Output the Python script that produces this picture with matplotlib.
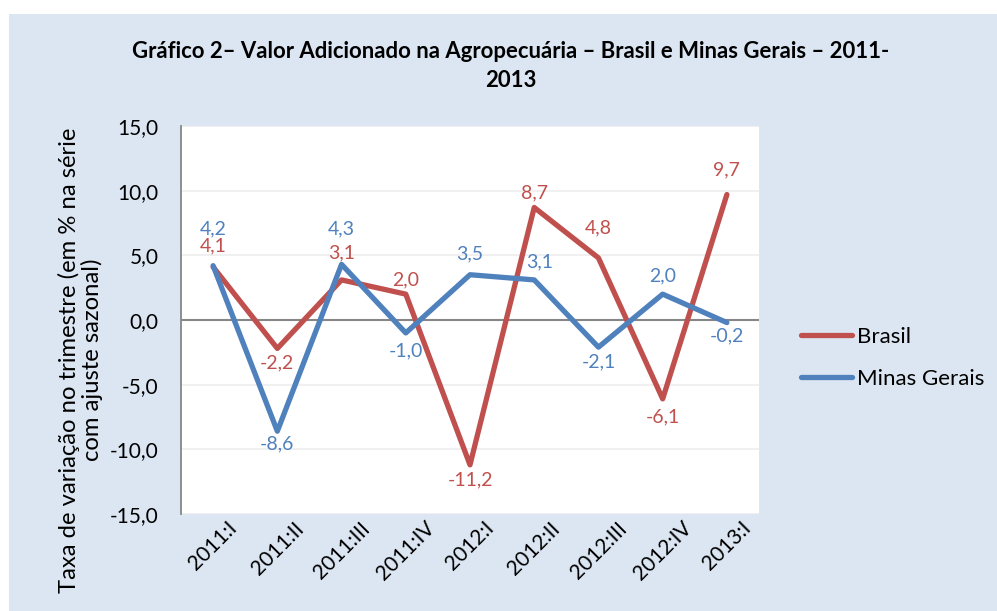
import matplotlib
matplotlib.use('Agg')
import matplotlib.pyplot as plt
from matplotlib.ticker import FuncFormatter, MultipleLocator
from matplotlib.patches import Rectangle

categories = ['2011:I', '2011:II', '2011:III', '2011:IV', '2012:I',
              '2012:II', '2012:III', '2012:IV', '2013:I']
brasil = [4.1, -2.2, 3.1, 2.0, -11.2, 8.7, 4.8, -6.1, 9.7]
minas = [4.2, -8.6, 4.3, -1.0, 3.5, 3.1, -2.1, 2.0, -0.2]

# data-label offsets in pixels (styling only)
brasil_dy = [-21, 14, -27, -14, 15, -15, -30, 18, -25]
minas_dy = [-37, 13, -36, 18, -21, -18, 15, -18, 13]
minas_dx = [0, 0, 0, 0, 0, 5, 0, 0, 0]

RED = '#C0504D'
BLUE = '#4F81BD'
BG = '#DCE6F2'

plt.rcParams['font.family'] = ['Lato', 'DejaVu Sans']

W, H = 997, 611
fig = plt.figure(figsize=(W / 100, H / 100), dpi=100)
fig.patch.set_facecolor('white')
fig.patches.append(Rectangle((9 / W, 0), 1 - 9 / W, (H - 14) / H,
                             transform=fig.transFigure, facecolor=BG,
                             edgecolor='none', zorder=-10))

ax = fig.add_axes([181 / W, (H - 514) / H, 578 / W, 388 / H])
ax.set_facecolor('white')

def fmt(v):
    return f'{v:.1f}'.replace('.', ',')

x = list(range(len(categories)))
ax.plot(x, brasil, color=RED, lw=3.8, solid_capstyle='round',
        solid_joinstyle='round', label='Brasil', zorder=3)
ax.plot(x, minas, color=BLUE, lw=3.8, solid_capstyle='round',
        solid_joinstyle='round', label='Minas Gerais', zorder=4)

for i, v in enumerate(brasil):
    ax.annotate(fmt(v), (i, v), xytext=(0, -brasil_dy[i] * 0.72),
                textcoords='offset points', ha='center', va='center',
                color=RED, fontsize=14, zorder=5)
for i, v in enumerate(minas):
    ax.annotate(fmt(v), (i, v), xytext=(minas_dx[i] * 0.72, -minas_dy[i] * 0.72),
                textcoords='offset points', ha='center', va='center',
                color=BLUE, fontsize=14, zorder=5)

ax.set_xlim(-0.5, len(categories) - 0.5)
ax.set_ylim(-15, 15)
ax.yaxis.set_major_locator(MultipleLocator(5))
ax.yaxis.set_major_formatter(FuncFormatter(lambda v, p: fmt(v)))
ax.set_xticks(x)
ax.set_xticklabels(categories, rotation=45, ha='center', va='top')
ax.tick_params(axis='y', length=0, pad=16, labelsize=15, colors='black')
ax.tick_params(axis='x', length=0, pad=3, labelsize=15, colors='black')

ax.yaxis.grid(True, color='#EFEFEF', lw=1.3, zorder=0)
ax.set_axisbelow(True)
ax.axhline(0, color='#868686', lw=1.5, zorder=2)
for s in ['top', 'right', 'bottom']:
    ax.spines[s].set_visible(False)
ax.spines['left'].set_color('#868686')
ax.spines['left'].set_linewidth(1.3)

fig.text(80 / W, 1 - 360 / H,
         'Taxa de variação no trimestre (em % na série\ncom ajuste sazonal)',
         rotation=90, ha='center', va='center', multialignment='center',
         fontsize=17.2, linespacing=1.05)

fig.text(511 / W, 1 - 66 / H,
         'Gráfico 2– Valor Adicionado na Agropecuária – Brasil e Minas Gerais – 2011-\n2013',
         ha='center', va='center', multialignment='center',
         fontsize=15.9, fontweight='bold', linespacing=1.45)

fig.legend(loc='center left', bbox_to_anchor=(781 / W, 1 - 358 / H),
           frameon=False, fontsize=16, handlelength=2.3, handletextpad=0.2,
           labelspacing=1.0)

fig.savefig('out.png', dpi=100, facecolor=fig.get_facecolor())
